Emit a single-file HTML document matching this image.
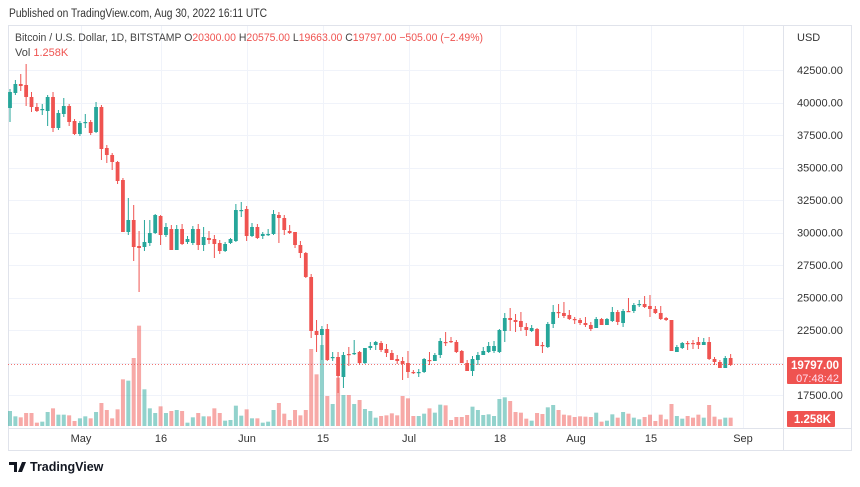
<!DOCTYPE html>
<html><head><meta charset="utf-8">
<style>
body{margin:0;background:#fff;width:860px;height:482px;overflow:hidden;font-family:"Liberation Sans",sans-serif;}
svg text{font-family:"Liberation Sans",sans-serif;}
</style></head><body>
<svg id="s" width="860" height="482" xmlns="http://www.w3.org/2000/svg">
<rect x="0" y="0" width="860" height="482" fill="#fff"/>
<text x="9" y="17" font-size="11.5" fill="#333" textLength="258" lengthAdjust="spacingAndGlyphs">Published on TradingView.com, Aug 30, 2022 16:11 UTC</text>
<g id="grid"></g>
<rect x="8.5" y="25.5" width="843" height="425" fill="none" stroke="#e0e3eb"/>
<line x1="783.5" y1="25" x2="783.5" y2="450" stroke="#e0e3eb"/>
<line x1="8" y1="428.5" x2="852" y2="428.5" stroke="#e0e3eb"/>
<g id="vol"></g>
<g id="candles"></g>
<line x1="8" y1="364.5" x2="783" y2="364.5" stroke="#ef5350" stroke-dasharray="1,2" opacity="0.8"/>
<text x="15" y="41" font-size="11" fill="#444" textLength="468" lengthAdjust="spacingAndGlyphs">Bitcoin / U.S. Dollar, 1D, BITSTAMP <tspan fill="#444">O</tspan><tspan fill="#ef5350">20300.00</tspan> <tspan fill="#444">H</tspan><tspan fill="#ef5350">20575.00</tspan> <tspan fill="#444">L</tspan><tspan fill="#ef5350">19663.00</tspan> <tspan fill="#444">C</tspan><tspan fill="#ef5350">19797.00</tspan> <tspan fill="#ef5350">−505.00 (−2.49%)</tspan></text>
<text x="15" y="56" font-size="11" fill="#444">Vol <tspan fill="#ef5350">1.258K</tspan></text>
<text x="797" y="41" font-size="11" fill="#333">USD</text>
<g id="ylab" font-size="11" fill="#333"></g>
<rect x="787" y="357" width="55" height="27" fill="#ef5350" rx="1"/>
<text x="839" y="369" font-size="11.5" fill="#fff" text-anchor="end" font-weight="bold">19797.00</text>
<text x="839" y="382" font-size="11" fill="#fde" text-anchor="end">07:48:42</text>
<rect x="787" y="411" width="48" height="16" fill="#ef5350" rx="1"/>
<text x="831" y="423" font-size="11.5" fill="#fff" text-anchor="end" font-weight="bold">1.258K</text>
<g font-size="11" fill="#333" text-anchor="middle">
<text x="81" y="442">May</text><text x="161" y="442">16</text><text x="247" y="442">Jun</text><text x="323" y="442">15</text>
<text x="409" y="442">Jul</text><text x="500" y="442">18</text><text x="576" y="442">Aug</text><text x="651" y="442">15</text><text x="743" y="442">Sep</text>
</g>
<g transform="translate(9,460)">
<path d="M0 2h8v10h-3v-7h-5z M9 12l4-10h4l-4 10z" fill="#131722"/>
</g>
<text x="30" y="471" font-size="12.5" font-weight="bold" fill="#131722">TradingView</text>
</svg>
<script>
var NS="http://www.w3.org/2000/svg";
function el(p,t,a){var e=document.createElementNS(NS,t);for(var k in a)e.setAttribute(k,a[k]);p.appendChild(e);return e;}
var grid=document.getElementById('grid');
[81,161,247,323,409,500,576,651,743].forEach(function(x){el(grid,'line',{x1:x+.5,y1:26,x2:x+.5,y2:428,stroke:'#f0f3fa'});});
var ylab=document.getElementById('ylab');
var levels=[[42500,70],[40000,102.5],[37500,135],[35000,167.5],[32500,200],[30000,232.5],[27500,265],[25000,297.5],[22500,330],[20000,362.5],[17500,395]];
levels.forEach(function(l){el(grid,'line',{x1:8,y1:Math.round(l[1])+.5,x2:783,y2:Math.round(l[1])+.5,stroke:'#f0f3fa'});
 if(l[0]!=20000){var t=el(ylab,'text',{x:797,y:l[1]+4});t.textContent=l[0]+'.00';}});
var C=[[108,92,89,122],[93,84,80,95],[84,86,74,91],[85,97,64,106],[97,107,92,112],[107,111,103,112],[110,109,104,115],[111,97,95,126],[97,128,92,132],[128,113,110,130],[114,106,98,117],[106,122,104,126],[121,134,119,135],[134,123,121,136],[123,122,114,128],[122,133,120,135],[132,107,102,133],[107,149,105,160],[148,155,145,163],[155,162,153,170],[162,181,161,184],[180,232,178,232],[232,220,198,235],[220,247,205,261],[246,248,231,292],[247,242,220,251],[243,233,220,246],[233,215,214,234],[216,235,215,245],[235,227,223,237],[229,250,225,250],[250,229,225,250],[229,244,224,245],[242,239,236,244],[243,229,226,245],[229,245,224,250],[245,237,227,251],[238,240,231,244],[239,244,235,258],[243,251,240,254],[251,244,242,252],[243,239,238,244],[241,210,204,242],[211,210,202,217],[209,236,206,241],[236,227,223,237],[227,238,224,239],[236,234,232,239],[235,234,229,236],[234,214,210,235],[215,218,212,243],[218,230,215,235],[231,233,225,234],[232,245,232,248],[245,253,241,258],[253,277,252,278],[277,331,274,338],[331,335,320,352],[335,329,326,360],[329,360,324,361],[358,357,352,361],[357,376,352,393],[377,355,352,388],[354,355,347,366],[354,353,340,355],[352,363,351,365],[363,348,348,364],[348,346,342,350],[345,342,341,350],[343,350,341,352],[349,353,344,357],[353,360,350,360],[359,361,355,364],[361,364,357,380],[363,372,351,378],[372,373,370,374],[373,372,369,377],[372,359,358,373],[360,360.5,352,365],[361,355,353,359],[355,341,338,358],[342,342.5,332,346],[341,342,337,343],[342,352,340,353],[351,363,350,363],[363,371,360,371],[371,359,356,376],[360,355,352,365],[355,351,347,355],[352,346,342,353],[351,346,341,353],[352,330,329,353],[331,318,313,342],[318,320,308,331],[320,322,314,332],[321,327,312,331],[327,330,323,336],[331,328,325,332],[329,346,328,346],[345,346,342,353],[347,324,322,348],[324,312,305,328],[312,313,304,318],[313,316,302,318],[315,319,310,320],[319,320,317,324],[320,323,318,325],[323,325,317,327],[325,329,322,331],[328,319,317,328],[319,325,318,325],[325,319,318,325],[321,312,307,322],[312,322,310,325],[323,311,309,327],[311,311.5,298,312],[311,305,303,313],[305,304,300,307],[304,307,296,308],[306,309,295,317],[309,313,306,314],[313,319,306,320],[318,320,317,321],[320,351,320,351],[352,347,345,352],[348,343,342,349],[343,344,341,350],[343,344,340,349],[342,345,337,349],[345,342,338,345],[342,359,337,360],[359,362,357,365],[362,368,360,368],[368,358,356,368],[358,365,354,366]];
var V1=[273,289,292,279,279,308,305,276,265,284,284,286,303,295,289,295,276,249,270,295,268,178,182,114,17,208,265,279,259,279,273,270,273,308,292,279,289,289,265,279,302,300,257,287,268,295,295,308,305,270,249,281,300,270,286,270];
var V2=[207,283,195,348,372,293,345,345,372,360,387,393,413,408,406,400,406,348,355,408,408,401,385,398,374,376,420,411,411,405,380,390,405,403,408,357,352,363,396,398,416,422,399,402,382,375,390,404,406,411,409,410,411,398,425,422,403,413,396,401,413,418,411,404,423,404,418,372,408,416,408,413,404,413,375,410,418,413,413];
var vh=V1.map(function(z){return (318-z)/3;}).concat(V2.map(function(z){return (438-z)/3;}));
var cg=document.getElementById('candles'),vg=document.getElementById('vol');
C.forEach(function(c,i){
 var x=10+i*5.378;var up=c[1]<=c[0];var col=up?'#26a69a':'#ef5350';
 if(c[1]==c[0]+0.5)col='#ef5350';
 el(cg,'line',{x1:x,y1:c[2],x2:x,y2:c[3],stroke:col,'stroke-width':1});
 var t=Math.min(c[0],c[1]),b=Math.max(c[0],c[1]);if(b-t<1.2)b=t+1.2;
 el(cg,'rect',{x:x-1.9,y:t,width:3.8,height:b-t,fill:col});
 var h=vh[i]||5;
 el(vg,'rect',{x:x-2,y:426-h,width:4,height:h,fill:up?'rgba(38,166,154,0.5)':'rgba(239,83,80,0.5)'});
});
</script>
</body></html>
